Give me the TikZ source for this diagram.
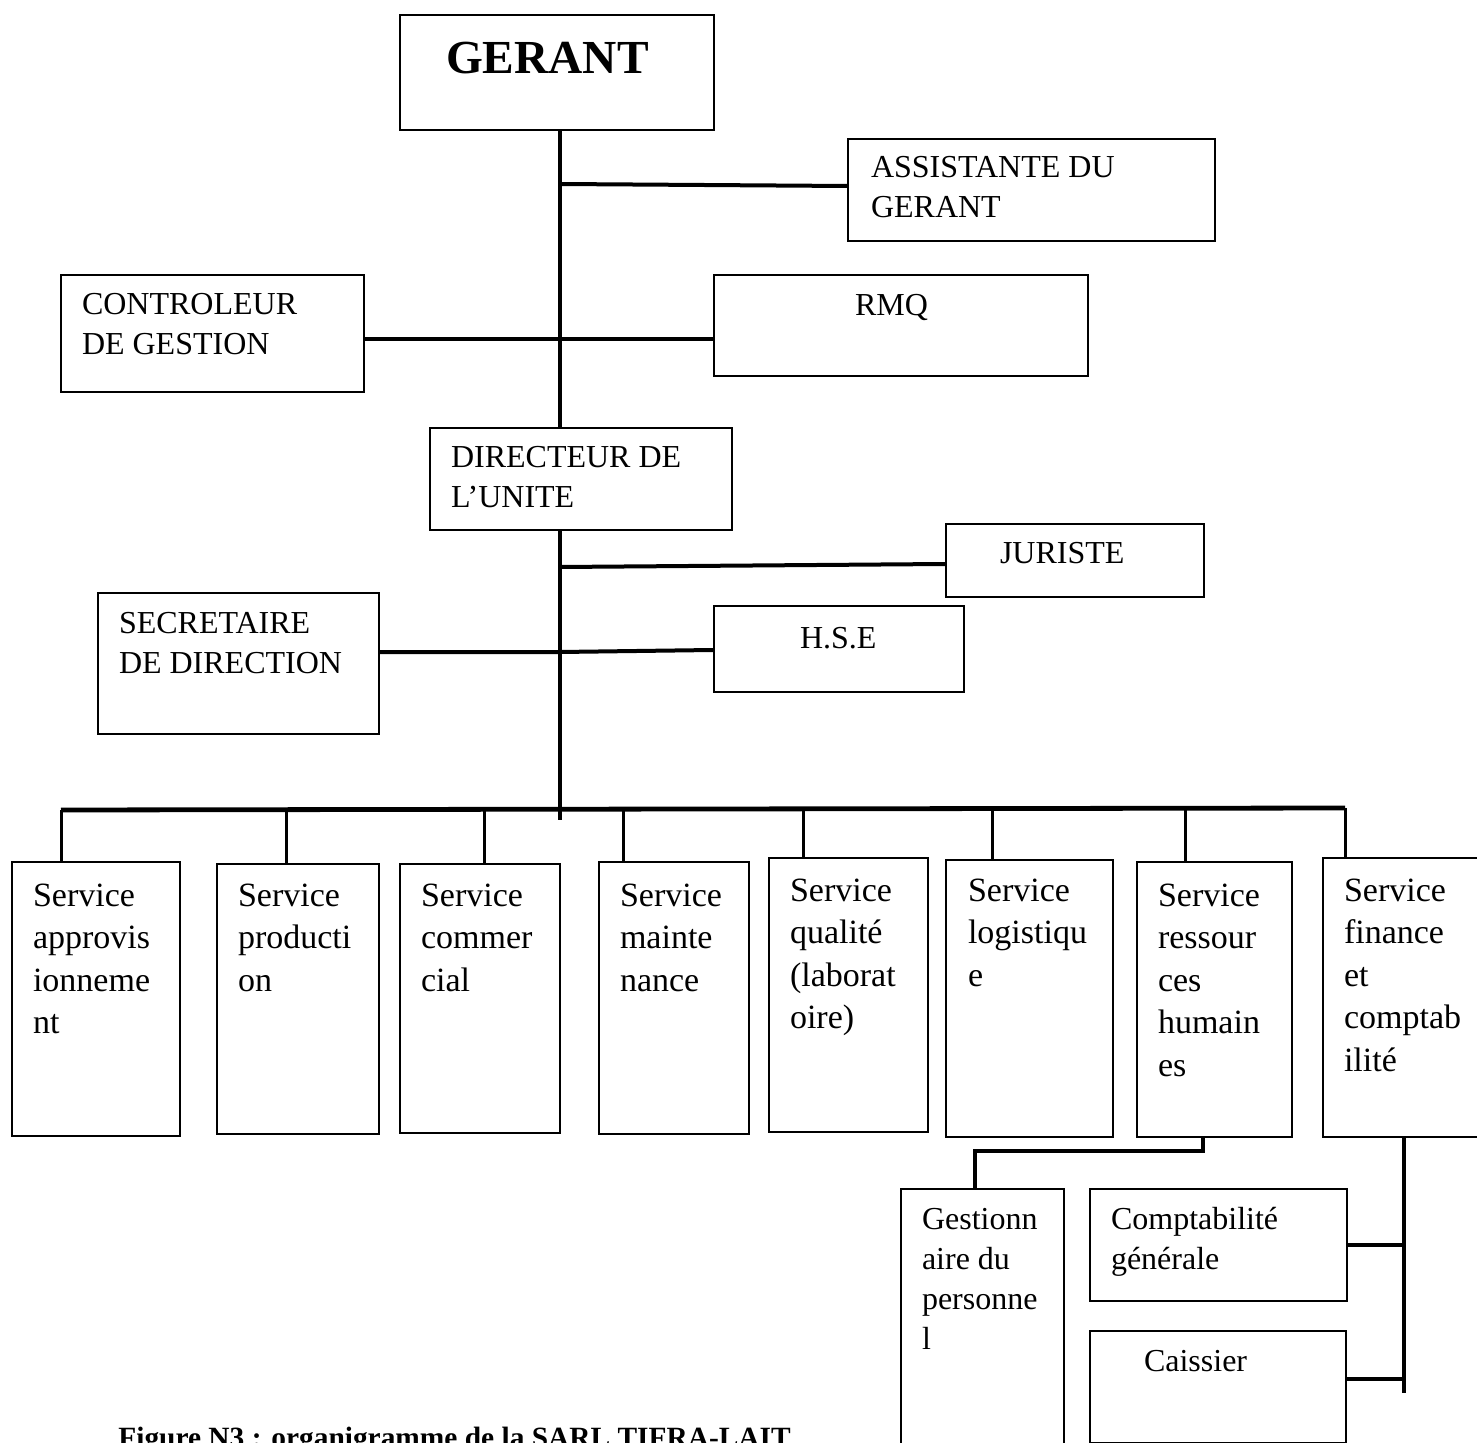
\documentclass[tikz,border=0pt]{standalone}
\usepackage{fontspec}
\setmainfont{Liberation Serif}
\usetikzlibrary{calc}

% one drawing unit
\newdimen\pxu \pxu=0.5pt
% box content: width, height, left inset, first baseline offset, text
\newcommand\inbox[5]{%
  \parbox[c][#2\pxu][t]{#1\pxu}{%
    \vspace*{\dimexpr#4\pxu-\ht\strutbox\relax}%
    \leftskip=#3\pxu\rightskip=0pt plus 1fil\parindent=0pt
    \noindent\strut#5\par}}

\begin{document}
\begin{tikzpicture}[x=0.5pt,y=-0.5pt,
  box/.style={draw, line width=1pt, inner sep=0pt, anchor=north west,
    font=\fontsize{16}{20}\selectfont},
  svc/.style={box, font=\fontsize{17}{21.25}\selectfont},
  head/.style={box, font=\fontsize{23.7}{28}\selectfont\bfseries},
  trunk/.style={line width=2pt},
  link/.style={line width=2pt},
  bus/.style={line width=2.4pt},
  drop/.style={line width=1.5pt}]

\useasboundingbox (0,0) rectangle (1477,1443);
\clip (0,0) rectangle (1477,1443);

% management boxes
\node[head] (ger)  at (399,14)  {\inbox{314}{115}{46}{59}{GERANT}};
\node[box]  (asst) at (847,138) {\inbox{367}{102}{23}{39}{ASSISTANTE DU\\GERANT}};
\node[box]  (ctrl) at (60,274)  {\inbox{303}{117}{21}{40}{CONTROLEUR\\DE GESTION}};
\node[box]  (rmq)  at (713,274) {\inbox{374}{101}{141}{41}{RMQ}};
\node[box]  (dir)  at (429,427) {\inbox{302}{102}{21}{40}{DIRECTEUR DE\\L’UNITE}};
\node[box]  (jur)  at (945,523) {\inbox{258}{73}{54}{40}{JURISTE}};
\node[box]  (sec)  at (97,592)  {\inbox{281}{141}{21}{40}{SECRETAIRE\\DE DIRECTION}};
\node[box]  (hse)  at (713,605) {\inbox{250}{86}{86}{42}{H.S.E}};

% services
\node[svc] (s1) at (11,861)   {\inbox{168}{274}{21}{44}{Service\\approvis\\ionneme\\nt}};
\node[svc] (s2) at (216,863)  {\inbox{162}{270}{21}{42}{Service\\producti\\on}};
\node[svc] (s3) at (399,863)  {\inbox{160}{269}{21}{42}{Service\\commer\\cial}};
\node[svc] (s4) at (598,861)  {\inbox{150}{272}{21}{44}{Service\\mainte\\nance}};
\node[svc] (s5) at (768,857)  {\inbox{159}{274}{21}{43}{Service\\qualité\\(laborat\\oire)}};
\node[svc] (s6) at (945,859)  {\inbox{167}{277}{22}{41}{Service\\logistiqu\\e}};
\node[svc] (s7) at (1136,861) {\inbox{155}{275}{21}{44}{Service\\ressour\\ces\\humain\\es}};
\node[svc] (s8) at (1322,857) {\inbox{160}{279}{21}{43}{Service\\finance\\et\\comptab\\ilité}};

% sub-units
\node[box] (gest) at (900,1188)  {\inbox{163}{300}{21}{40}{Gestionn\\aire du\\personne\\l}};
\node[box] (cg)   at (1089,1188) {\inbox{257}{112}{21}{40}{Comptabilité\\générale}};
\node[box] (cai)  at (1089,1330) {\inbox{256}{112}{54}{40}{Caissier}};

% caption
\node[anchor=base west, inner sep=0pt, font=\fontsize{14.7}{17}\selectfont\bfseries]
  (cap) at (118,1447) {Figure N3 : organigramme de la SARL TIFRA-LAIT};

% reference points
\coordinate (tk) at (560,820);
\coordinate (hA) at (0,184);
\coordinate (hB) at (0,339);
\coordinate (hC) at (0,567);
\coordinate (hC2) at (0,564);
\coordinate (hD) at (0,652);
\coordinate (hD2) at (0,650);
\coordinate (b1) at (61,810);
\coordinate (b2) at (286,810);
\coordinate (b3) at (484,810);
\coordinate (b4) at (623,809);
\coordinate (b5) at (803,809);
\coordinate (b6) at (992,809);
\coordinate (b7) at (1185,808);
\coordinate (b8) at (1345,808);
\coordinate (k1) at (1203,1151);
\coordinate (k2) at (975,1151);
\coordinate (f1) at (1404,1393);

% main line
\draw[trunk] (ger.south -| tk) -- (dir.north -| tk);
\draw[trunk] (dir.south -| tk) -- (tk);

% staff links
\draw[link] (tk |- hA) -- ([yshift=2pt]asst.west);
\draw[link] (ctrl.east |- hB) -- (rmq.west |- hB);
\draw[link] (tk |- hC) -- (jur.west |- hC2);
\draw[link] (sec.east |- hD) -- (tk |- hD) -- (hse.west |- hD2);

% service bus and drops
\draw[bus] (b1) -- (b8);
\foreach \i in {1,...,8} \draw[drop] (b\i) -- (b\i |- s\i.north);

% sub-unit links
\draw[link] (s7.south -| k1) -- (k1) -- (k2) -- (gest.north -| k2);
\draw[link] (s8.south -| f1) -- (f1);
\draw[link] (cg.east) -- (cg.east -| f1);
\draw[link] ([yshift=4pt]cai.east) -- ([yshift=4pt]cai.east -| f1);
\end{tikzpicture}
\end{document}
